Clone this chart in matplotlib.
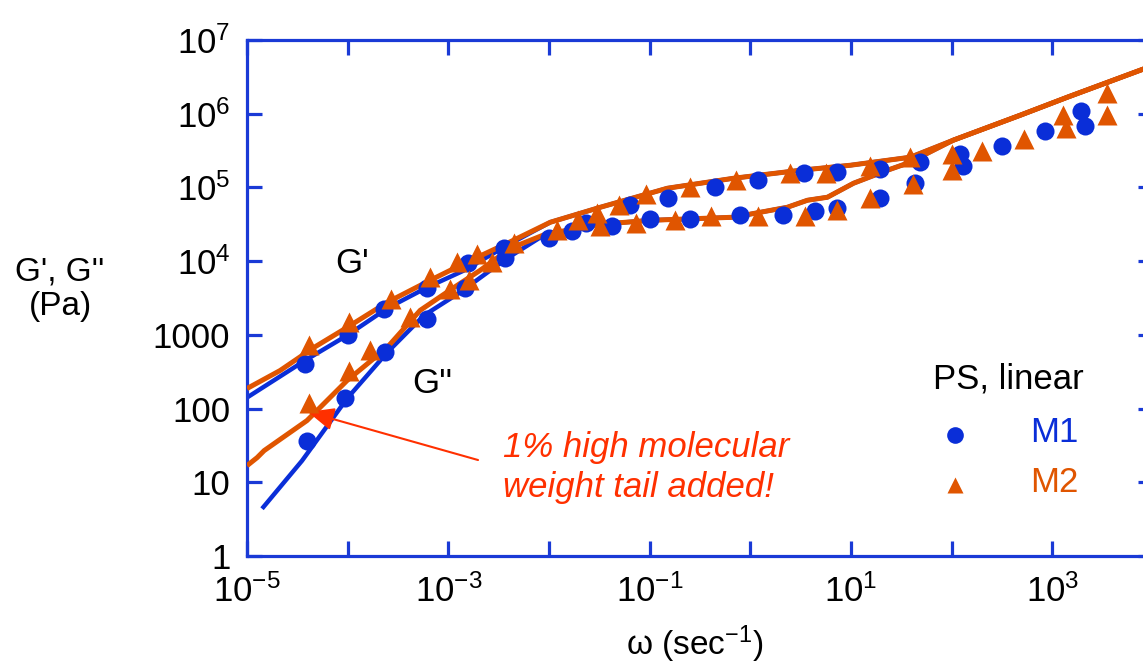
import math
import matplotlib
matplotlib.use('Agg')
import matplotlib.pyplot as plt
from matplotlib.ticker import FixedLocator, FuncFormatter, NullLocator

plt.rcParams['font.family'] = ['Liberation Sans', 'DejaVu Sans']
plt.rcParams['mathtext.fontset'] = 'custom'
plt.rcParams['mathtext.rm'] = 'Liberation Sans'
plt.rcParams['mathtext.it'] = 'Liberation Sans:italic'
plt.rcParams['mathtext.bf'] = 'Liberation Sans:bold'

BLUE = '#0a2ed8'
ORANGE = '#e05500'
RED = '#ff3000'
AXIS = '#1a3ad6'

# --- M1 measurements (circles) ---
m1_w_gp = [3.77e-5, 1.01e-4, 2.30e-4, 6.15e-4, 1.57e-3, 3.59e-3, 6.31e-2, 0.152, 0.441,
           1.19, 3.44, 7.27, 19.6, 48.2, 122, 318, 855, 1940]
m1_gp = [408, 1010, 2210, 4270, 9330, 14900, 58600, 72900, 101600,
         127900, 157300, 162400, 176600, 222000, 280000, 363000, 586000, 1.08e6]
m1_w_gpp = [3.94e-5, 9.4e-5, 2.36e-4, 6.15e-4, 1.47e-3, 3.67e-3, 1.01e-2, 1.69e-2, 2.34e-2,
            4.22e-2, 0.101, 0.254, 0.796, 2.11, 4.43, 7.27, 19.6, 43.6, 130, 2090]
m1_gpp = [36.7, 137, 577, 1620, 4270, 10900, 20800, 25400, 33000,
          29700, 37000, 37000, 42800, 41900, 47500, 53300, 72900, 115000, 194000, 679000]

# --- M2 measurements (triangles) ---
m2_w_gp = [4.1e-5, 1.03e-4, 2.70e-4, 6.55e-4, 1.21e-3, 1.93e-3, 4.44e-3, 1.20e-2, 1.96e-2,
           2.99e-2, 4.91e-2, 9.24e-2, 0.249, 0.726, 2.46, 5.69, 15.3, 38.3, 101, 201, 521, 1280, 3460]
m2_gp = [718, 1490, 3090, 6080, 9720, 12650, 17600, 26200, 36600,
         45600, 58600, 80900, 101600, 125300, 157300, 157300, 194000, 254800, 280000, 310000,
         448000, 957000, 1.89e6]
m2_w_gpp = [4.1e-5, 1.03e-4, 1.66e-4, 4.20e-4, 1.05e-3, 1.60e-3, 2.72e-3, 3.23e-2, 7.36e-2,
            0.180, 0.409, 1.19, 3.47, 7.27, 15.3, 41.4, 101, 1380, 3460]
m2_gpp = [118, 321, 628, 1740, 4230, 5610, 9720, 29700, 33000,
          36600, 40600, 40600, 40600, 49000, 72900, 113000, 175000, 631000, 957000]

# --- model curves ---
fit1_w_gp = [1e-5, 3.77e-5, 9.86e-5, 2.47e-4, 6.15e-4, 1.44e-3, 3.84e-3, 1.03e-2, 3.23e-2,
             0.150, 0.678, 3.14, 9.87, 38.9, 104, 483, 1420, 7540, 1e4]
fit1_gp = [141, 449, 982, 2290, 4400, 7500, 16400, 33700, 53800,
           97500, 133000, 171000, 200000, 257000, 438000, 957000, 1.68e6, 3.91e6, 4.5e6]
fit1_w_gpp = [1.41e-5, 3.52e-5, 9.86e-5, 2.47e-4, 5.74e-4, 1.31e-3, 3.59e-3, 9.16e-3, 3.23e-2,
              0.101, 0.678, 2.33, 3.69, 5.83, 10.6, 23.0, 38.9, 55, 104, 483, 1420, 7540, 1e4]
fit1_gpp = [4.38, 19.6, 137, 577, 1840, 3770, 10300, 23100, 31600,
            35800, 39400, 53800, 67000, 73600, 114000, 171000, 220000, 282000, 438000, 957000,
            1.68e6, 3.91e6, 4.5e6]
fit2_w_gp = [1e-5, 2.13e-5, 4.63e-5, 9.86e-5, 2.47e-4, 6.59e-4, 1.44e-3, 3.84e-3, 1.03e-2,
             3.23e-2, 0.150, 0.678, 3.14, 9.87, 38.9, 104, 483, 1420, 7540, 1e4]
fit2_gp = [187, 328, 675, 1260, 2760, 5490, 9330, 17450, 33700,
           53800, 97500, 133000, 171000, 200000, 257000, 438000, 957000, 1.68e6, 3.91e6, 4.5e6]
fit2_w_gpp = [1e-5, 1.26e-5, 1.48e-5, 3.94e-5, 9.86e-5, 2.47e-4, 5.25e-4, 1.14e-3, 2.07e-3,
              4.11e-3, 9.16e-3, 3.23e-2, 0.101, 0.678, 2.33, 3.69, 5.83, 10.6, 23.0, 38.9, 55,
              104, 483, 1420, 7540, 1e4]
fit2_gpp = [16.8, 21.6, 26.9, 68.7, 240, 675, 2150, 4400, 7500,
            14900, 23100, 31600, 35800, 39400, 53800, 67000, 73600, 114000, 171000, 220000, 282000,
            438000, 957000, 1.68e6, 3.91e6, 4.5e6]

y_ticks = [1, 10, 100, 1000, 1e4, 1e5, 1e6, 1e7]
y_labels = ['1', '10', '100', '1000', '$10^{4}$', '$10^{5}$', '$10^{6}$', '$10^{7}$']
x_ticks = [10.0 ** e for e in range(-5, 5)]
x_labelled = {-5: '$10^{-5}$', -3: '$10^{-3}$', -1: '$10^{-1}$', 1: '$10^{1}$', 3: '$10^{3}$'}

fig = plt.figure(figsize=(11.43, 6.68), dpi=100)
# right spine sits just past the image edge, as in the original
ax = fig.add_axes([247 / 1143, 112 / 668, 906 / 1143, 516 / 668])
ax.set_xscale('log')
ax.set_yscale('log')
ax.set_xlim(1e-5, 1e4)
ax.set_ylim(1, 1e7)

# curves: M1 (blue) under M2 (orange)
ax.plot(fit1_w_gp, fit1_gp, color=BLUE, lw=3.2, solid_capstyle='butt', zorder=2)
ax.plot(fit1_w_gpp, fit1_gpp, color=BLUE, lw=3.2, solid_capstyle='butt', zorder=2)
ax.plot(fit2_w_gp, fit2_gp, color=ORANGE, lw=3.6, solid_capstyle='butt', zorder=3)
ax.plot(fit2_w_gpp, fit2_gpp, color=ORANGE, lw=3.6, solid_capstyle='butt', zorder=3)

ax.plot(m1_w_gp, m1_gp, 'o', color=BLUE, ms=13, mec='none', zorder=4)
ax.plot(m1_w_gpp, m1_gpp, 'o', color=BLUE, ms=13, mec='none', zorder=4)
ax.plot(m2_w_gp, m2_gp, '^', color=ORANGE, ms=14, mec='none', zorder=5)
ax.plot(m2_w_gpp, m2_gpp, '^', color=ORANGE, ms=14, mec='none', zorder=5)

for side in ['left', 'right', 'top', 'bottom']:
    ax.spines[side].set_color(AXIS)
    ax.spines[side].set_linewidth(2.3)

ax.xaxis.set_major_locator(FixedLocator(x_ticks))
ax.xaxis.set_major_formatter(FuncFormatter(
    lambda v, p: x_labelled.get(int(round(math.log10(v))), '')))
ax.yaxis.set_major_locator(FixedLocator(y_ticks))
ax.set_yticklabels(y_labels)
ax.xaxis.set_minor_locator(NullLocator())
ax.yaxis.set_minor_locator(NullLocator())
ax.tick_params(which='major', direction='in', length=11, width=2.3, color=AXIS,
               top=True, right=True, labelsize=25)
ax.tick_params(axis='y', pad=12)
ax.tick_params(axis='x', pad=13)

ax.text(0.116, 0.566, "G'", transform=ax.transAxes, fontsize=25, ha='center', va='center')
ax.text(0.205, 0.335, "G''", transform=ax.transAxes, fontsize=25, ha='center', va='center')

ax.text(0.283, 0.1715, '1% high molecular\nweight tail added!', transform=ax.transAxes,
        fontsize=25, style='italic', color=RED, ha='left', va='center', linespacing=1.3)
ax.annotate('', xy=(0.0673, 0.2791), xycoords='axes fraction',
            xytext=(0.2550, 0.1860), textcoords='axes fraction',
            arrowprops=dict(arrowstyle='-|>,head_length=0.8,head_width=0.35',
                            mutation_scale=20, color=RED, lw=1.5, shrinkA=0, shrinkB=0))

# legend block
ax.text(0.840, 0.343, 'PS, linear', transform=ax.transAxes, fontsize=25, ha='center', va='center')
ax.plot([0.7815], [0.2345], 'o', transform=ax.transAxes, color=BLUE, ms=12, mec='none', clip_on=False)
ax.text(0.8642, 0.2384, 'M1', transform=ax.transAxes, fontsize=25, color=BLUE, ha='left', va='center')
ax.plot([0.7815], [0.1376], '^', transform=ax.transAxes, color=ORANGE, ms=12, mec='none', clip_on=False)
ax.text(0.8642, 0.1415, 'M2', transform=ax.transAxes, fontsize=25, color=ORANGE, ha='left', va='center')

fig.text(0.0525, 0.567, "G', G''\n(Pa)", fontsize=24, ha='center', va='center', linespacing=1.15)
fig.text(0.608, 0.036, 'ω (sec$^{-1}$)', fontsize=24, ha='center', va='center')

fig.savefig('out.png', dpi=100)
